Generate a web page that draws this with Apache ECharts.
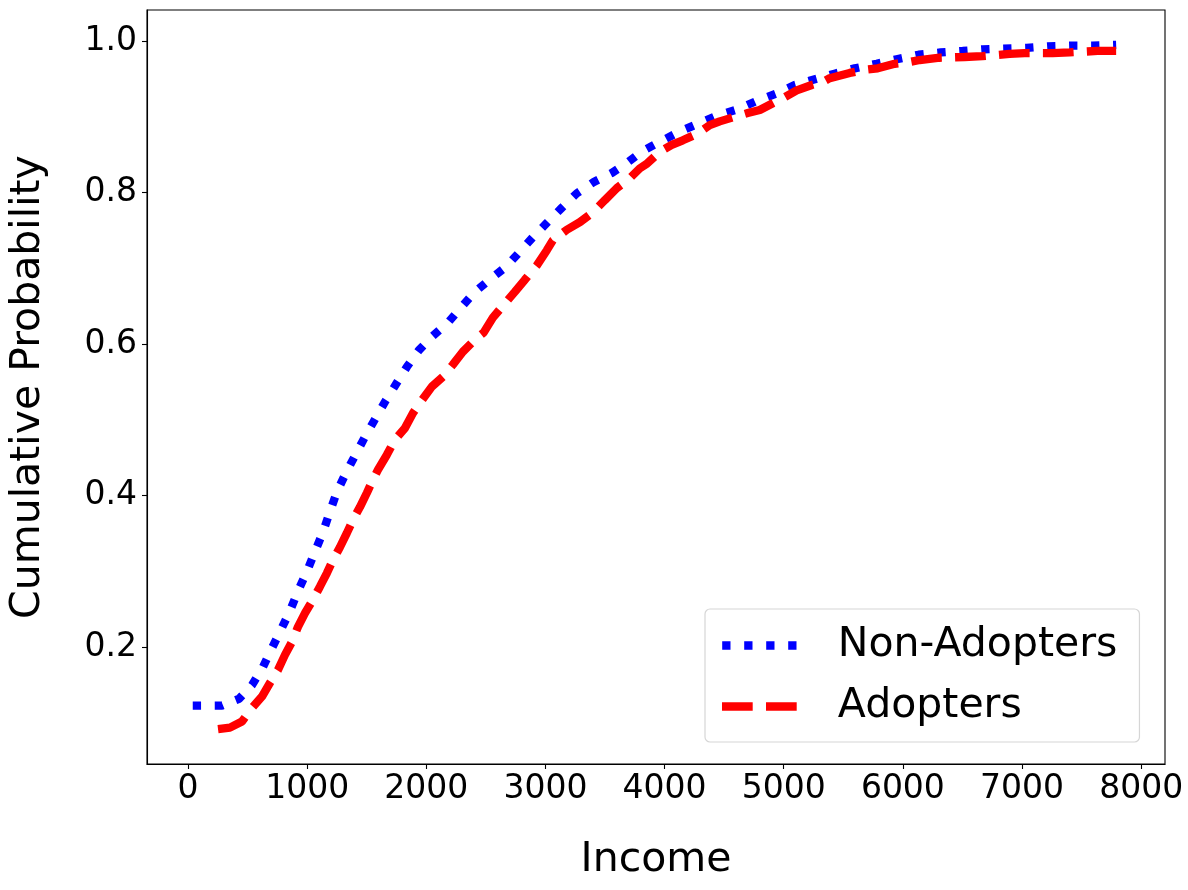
<!DOCTYPE html>
<html>
<head>
<meta charset="utf-8">
<script src="https://cdn.jsdelivr.net/npm/echarts@6/dist/echarts.min.js"></script>
<style>
html,body{margin:0;padding:0;background:#fff;}
#chart{width:1188px;height:890px;}
</style>
</head>
<body>
<div id="chart"></div>
<script>
const xTicks = [0, 1000, 2000, 3000, 4000, 5000, 6000, 7000, 8000];
const yTicks = [0.2, 0.4, 0.6, 0.8, 1.0];
const seriesNames = ['Non-Adopters', 'Adopters'];

const nonAdoptersIncome = [40, 285, 428, 537, 629, 705, 780, 856, 923, 998, 1065, 1133, 1191, 1250, 1325, 1409, 1493, 1577, 1661, 1753, 1837, 1938, 2055, 2185, 2295, 2408, 2538, 2668, 2785, 2894, 3012, 3138, 3263, 3406, 3557, 3691, 3817, 3960, 4119, 4295, 4446, 4614, 4773, 4941, 5092, 5428, 5596, 5780, 5948, 6133, 6317, 6502, 6669, 6837, 7039, 7215, 7416, 7592, 7790];
const nonAdoptersProb = [0.123, 0.123, 0.132, 0.150, 0.174, 0.199, 0.223, 0.248, 0.274, 0.300, 0.326, 0.352, 0.379, 0.405, 0.430, 0.455, 0.480, 0.503, 0.526, 0.549, 0.570, 0.592, 0.611, 0.629, 0.649, 0.669, 0.686, 0.702, 0.722, 0.741, 0.760, 0.780, 0.799, 0.814, 0.826, 0.840, 0.855, 0.867, 0.880, 0.892, 0.902, 0.910, 0.921, 0.931, 0.942, 0.957, 0.964, 0.970, 0.976, 0.982, 0.985, 0.987, 0.989, 0.990, 0.991, 0.993, 0.994, 0.994, 0.995];

const adoptersIncome = [252, 352, 453, 537, 621, 688, 755, 814, 872, 923, 982, 1049, 1107, 1166, 1216, 1275, 1334, 1384, 1443, 1502, 1552, 1594, 1669, 1737, 1820, 1888, 1963, 2047, 2139, 2223, 2307, 2408, 2480, 2559, 2634, 2743, 2827, 2928, 3012, 3062, 3180, 3289, 3398, 3498, 3599, 3708, 3792, 3851, 3960, 4060, 4153, 4278, 4379, 4463, 4589, 4698, 4799, 4908, 5008, 5109, 5235, 5327, 5386, 5554, 5680, 5789, 5931, 6040, 6141, 6309, 6518, 6669, 6896, 7022, 7257, 7399, 7634, 7790];
const adoptersProb = [0.092, 0.094, 0.102, 0.120, 0.135, 0.153, 0.170, 0.190, 0.207, 0.227, 0.245, 0.263, 0.280, 0.298, 0.315, 0.332, 0.351, 0.368, 0.385, 0.404, 0.421, 0.434, 0.454, 0.474, 0.489, 0.509, 0.526, 0.544, 0.557, 0.573, 0.590, 0.606, 0.615, 0.635, 0.649, 0.669, 0.685, 0.704, 0.724, 0.737, 0.751, 0.761, 0.774, 0.790, 0.806, 0.819, 0.832, 0.838, 0.854, 0.863, 0.869, 0.878, 0.889, 0.894, 0.900, 0.905, 0.909, 0.918, 0.926, 0.935, 0.942, 0.946, 0.951, 0.958, 0.962, 0.964, 0.970, 0.972, 0.975, 0.978, 0.979, 0.980, 0.983, 0.984, 0.984, 0.985, 0.987, 0.987];

function zip(xs, ys) { return xs.map((x, i) => [x, ys[i]]); }

const FONT = 'DejaVu Sans';
const chart = echarts.init(document.getElementById('chart'), null, {renderer: 'canvas'});
const LW = 8.3;

// legend icons: dotted (4 squares) and dashed (2 dashes), in a 75 x 8.3 box
const dotIcon = 'path://M0,0h8.3v8.3h-8.3z M22,0h8.3v8.3h-8.3z M44,0h8.3v8.3h-8.3z M66,0h8.3v8.3h-8.3z';
const dashIcon = 'path://M0,0h30.7v8.3h-30.7z M44,0h30.7v8.3h-30.7z';

chart.setOption({
  animation: false,
  backgroundColor: '#ffffff',
  textStyle: {fontFamily: FONT},
  grid: {left: 147, right: 23, top: 10, bottom: 126, show: true, borderColor: '#000', borderWidth: 1.1, containLabel: false},
  xAxis: {
    type: 'value', min: -344, max: 8200,
    name: 'Income', nameLocation: 'middle', nameGap: 76,
    nameTextStyle: {fontSize: 41, color: '#000', fontFamily: FONT},
    axisLine: {show: true, onZero: false, lineStyle: {color: '#000', width: 1.1}},
    axisTick: {show: true, length: 5, lineStyle: {color: '#000', width: 1.1}, customValues: xTicks},
    axisLabel: {show: true, fontSize: 33, color: '#000', margin: 9, fontFamily: FONT, customValues: xTicks,
      formatter: v => String(Math.round(v))},
    splitLine: {show: false}
  },
  yAxis: {
    type: 'value', min: 0.046, max: 1.041,
    name: 'Cumulative Probability', nameLocation: 'middle', nameGap: 98, nameRotate: 90,
    nameTextStyle: {fontSize: 41, color: '#000', fontFamily: FONT},
    axisLine: {show: true, onZero: false, lineStyle: {color: '#000', width: 1.1}},
    axisTick: {show: true, length: 5, lineStyle: {color: '#000', width: 1.1}, customValues: yTicks},
    axisLabel: {show: true, fontSize: 33, color: '#000', margin: 10, fontFamily: FONT, customValues: yTicks,
      formatter: v => v.toFixed(1)},
    splitLine: {show: false}
  },
  legend: {
    orient: 'vertical', left: 705, top: 609,
    padding: [16, 22, 15, 17],
    backgroundColor: '#fff', borderColor: '#d6d6d6', borderWidth: 1.2, borderRadius: 5,
    itemWidth: 75, itemHeight: 8.3, itemGap: 20,
    textStyle: {fontSize: 41, color: '#000', fontFamily: FONT, lineHeight: 41, padding: [0, 0, 0, 36]},
    data: [
      {name: seriesNames[0], icon: dotIcon, itemStyle: {color: '#0000ff'}},
      {name: seriesNames[1], icon: dashIcon, itemStyle: {color: '#ff0000'}}
    ]
  },
  series: [
    {
      name: seriesNames[0], type: 'line', data: zip(nonAdoptersIncome, nonAdoptersProb),
      symbol: 'none', smooth: false, z: 3,
      lineStyle: {color: '#0000ff', width: LW, type: [LW, LW * 1.65], cap: 'butt'},
      itemStyle: {color: '#0000ff'}
    },
    {
      name: seriesNames[1], type: 'line', data: zip(adoptersIncome, adoptersProb),
      symbol: 'none', smooth: false, z: 4,
      lineStyle: {color: '#ff0000', width: LW, type: [LW * 3.7, LW * 1.6], cap: 'butt'},
      itemStyle: {color: '#ff0000'}
    }
  ]
});
</script>
</body>
</html>
